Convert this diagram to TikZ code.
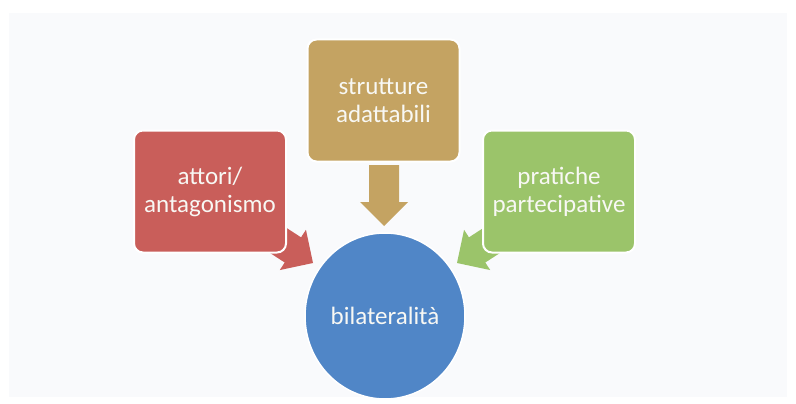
\documentclass[tikz,border=0pt]{standalone}
\usepackage{fontspec}
\usetikzlibrary{shapes.geometric}
\setmainfont{Carlito}
\definecolor{pagebg}{RGB}{249,250,252}
\definecolor{redfill}{RGB}{201,94,90}
\definecolor{goldfill}{RGB}{196,163,98}
\definecolor{greenfill}{RGB}{155,196,106}
\definecolor{bluefill}{RGB}{80,134,199}
\definecolor{labeltext}{RGB}{248,248,244}
\begin{document}
\begin{tikzpicture}[x=1pt,y=-1pt,
  sourcebox/.style={rectangle, rounded corners=9pt, draw=white, line width=2pt,
    minimum width=152pt, minimum height=122pt, inner sep=0pt,
    text=labeltext, align=center,
    font=\fontsize{25}{28}\selectfont},
  hubcircle/.style={ellipse, draw=white, line width=1.5pt, fill=bluefill,
    minimum width=160pt, minimum height=166pt, inner sep=0pt,
    text=labeltext, font=\fontsize{25}{28}\selectfont}
]
% page and faint panel behind the diagram
\fill[white] (0,0) rectangle (796,404);
\fill[pagebg] (9,13) rectangle (787,397);
\useasboundingbox (0,0) rectangle (796,404);

% tips of the three converging arrows
\coordinate (tipL) at (313,263);
\coordinate (tipT) at (384,226);
\coordinate (tipR) at (457,263);

% block arrows (drawn first so the boxes overlap their tails)
\foreach \tip/\ang/\col in {tipL/-33/redfill, tipT/-90/goldfill, tipR/-147/greenfill}{
  \begin{scope}[shift={(\tip)}, rotate=\ang]
    \fill[\col] (0,0) -- (-24,24) -- (-24,15) -- (-61,15) -- (-61,-15)
      -- (-24,-15) -- (-24,-24) -- cycle;
  \end{scope}
}

% source boxes
\node[sourcebox, fill=redfill]   (actors)    at (210,191.5) {attori/\\antagonismo};
\node[sourcebox, fill=goldfill]  (structs)   at (383.5,100.5) {strutture\\adattabili};
\node[sourcebox, fill=greenfill] (practices) at (559,191.5) {pratiche\\partecipative};

% central hub
\node[hubcircle] (hub) at (385,316) {bilateralità};
\end{tikzpicture}
\end{document}
